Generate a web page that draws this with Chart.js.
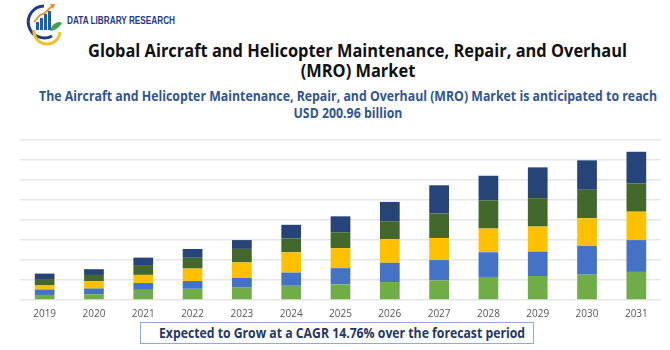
<!DOCTYPE html>
<html>
<head>
<meta charset="utf-8">
<script src="https://cdn.jsdelivr.net/npm/chart.js@4/dist/chart.umd.min.js"></script>
<style>
  html, body { margin: 0; padding: 0; background: #fff; }
  #wrap { position: relative; width: 670px; height: 350px; overflow: hidden; background: #fff; }
  #chartBox { position: absolute; left: 0; top: 130px; width: 670px; height: 200px; }
  #txt { position: absolute; left: 0; top: 0; }
  #cagr { position: absolute; left: 140px; top: 322px; width: 394px; height: 22px; border: 1px solid #8FAADC; box-sizing: border-box; }
</style>
</head>
<body>
<div id="wrap">
  <svg id="txt" width="670" height="350" xmlns="http://www.w3.org/2000/svg">
    <!-- logo -->
    <g>
      <path d="M44 6 A16 16 0 1 0 52 36" fill="none" stroke="#1F3A93" stroke-width="3"/>
      <path d="M34 30 A13 13 0 0 0 60 32" fill="none" stroke="#F2C12E" stroke-width="3"/>
      <rect x="36" y="22" width="3" height="8" fill="#1F5FA8"/>
      <rect x="40" y="18" width="3" height="12" fill="#1F5FA8"/>
      <rect x="44" y="14" width="3" height="16" fill="#1F5FA8"/>
      <rect x="48" y="11" width="3" height="19" fill="#1F5FA8"/>
      <path d="M34 22 L40 15 L45 13 L52 6" fill="none" stroke="#F08A24" stroke-width="1.8"/>
      <path d="M50 4 L55 4 L53 9 Z" fill="#F08A24"/>
      <path d="M52 26 Q58 20 62 23 Q58 30 50 31 Z" fill="#3FA34D"/>
    </g>
    <text x="67" y="24" font-family="Liberation Sans, Arial, sans-serif" font-weight="bold" font-size="11" fill="#1F3A93" textLength="108" lengthAdjust="spacingAndGlyphs">DATA LIBRARY RESEARCH</text>
    <!-- titles -->
    <text id="t1" x="357.5" y="56.5" text-anchor="middle" font-family="Open Sans, sans-serif" font-weight="bold" font-size="17" fill="#111">Global Aircraft and Helicopter Maintenance, Repair, and Overhaul</text>
    <text id="t2" x="358" y="77" text-anchor="middle" font-family="Open Sans, sans-serif" font-weight="bold" font-size="17" fill="#111">(MRO) Market</text>
    <text id="s1" x="348" y="100.7" text-anchor="middle" font-family="Open Sans, sans-serif" font-weight="bold" font-size="13.5" fill="#2F5597">The Aircraft and Helicopter Maintenance, Repair, and Overhaul (MRO) Market is anticipated to reach</text>
    <text id="s2" x="348" y="117.5" text-anchor="middle" font-family="Open Sans, sans-serif" font-weight="bold" font-size="13.5" fill="#2F5597">USD 200.96 billion</text>
    <text id="c1" x="342" y="338.3" text-anchor="middle" font-family="Open Sans, sans-serif" font-weight="bold" font-size="13.5" fill="#1F3864">Expected to Grow at a CAGR 14.76% over the forecast period</text>
  </svg>
  <div id="cagr"></div>
  <div id="chartBox"><canvas id="c"></canvas></div>
</div>
<script>
// ---- data ----
const years = ["2019","2020","2021","2022","2023","2024","2025","2026","2027","2028","2029","2030","2031"];
const segmentA = [6.3, 7.2, 12.7, 14.0, 16.1, 17.8, 19.5, 22.4, 24.5, 28.8, 30.0, 31.7, 35.1];
const segmentB = [6.8, 7.2, 8.5, 9.7, 11.4, 16.5, 20.3, 24.1, 25.4, 30.9, 30.5, 35.9, 39.8];
const segmentC = [5.1, 9.3, 10.2, 15.6, 19.5, 25.4, 25.0, 29.6, 27.5, 29.6, 31.3, 34.7, 35.5];
const segmentD = [8.0, 7.6, 12.3, 13.5, 16.9, 17.4, 19.9, 22.4, 30.9, 35.1, 35.5, 35.5, 35.1];
const segmentE = [6.8, 7.2, 9.3, 11.0, 11.0, 16.9, 19.9, 24.1, 35.1, 30.9, 38.5, 36.8, 39.8];
const seriesNames = ["Segment A", "Segment B", "Segment C", "Segment D", "Segment E"];
const seriesColors = ["#70AD47", "#4472C4", "#FFC000", "#43682B", "#264478"];

// fit text widths (compressed title font like the reference)
function fit(id, w) {
  const el = document.getElementById(id);
  const n = el.getComputedTextLength();
  el.setAttribute("textLength", w);
  el.setAttribute("lengthAdjust", "spacingAndGlyphs");
  return w / n;
}
function scaleLike(id, r) {
  const el = document.getElementById(id);
  const n = el.getComputedTextLength();
  el.setAttribute("textLength", n * r);
  el.setAttribute("lengthAdjust", "spacingAndGlyphs");
}
const r1 = fit("t1", 539);
scaleLike("t2", r1);
const r2 = fit("s1", 618);
scaleLike("s2", r2);
fit("c1", 366);

const all = [segmentA, segmentB, segmentC, segmentD, segmentE];
new Chart(document.getElementById("c"), {
  type: "bar",
  data: {
    labels: years,
    datasets: all.map((d, i) => ({
      label: seriesNames[i],
      data: d,
      backgroundColor: seriesColors[i],
      borderWidth: 0,
      barPercentage: 0.4,
      categoryPercentage: 1.0
    }))
  },
  options: {
    responsive: true,
    maintainAspectRatio: false,
    animation: false,
    layout: { padding: { left: 20, right: 9, top: 10, bottom: 10 } },
    plugins: { legend: { display: false }, tooltip: { enabled: false } },
    scales: {
      x: {
        stacked: true,
        grid: { display: false },
        border: { display: false },
        ticks: { color: "#595959", font: { family: "Open Sans, sans-serif", size: 10 }, padding: 0, maxRotation: 0 }
      },
      y: {
        stacked: true,
        min: 0, max: 200,
        ticks: { display: false, stepSize: 25 },
        grid: { color: "#E6E6E6", lineWidth: 1.5, drawTicks: false },
        border: { display: false }
      }
    }
  }
});
</script>
</body>
</html>
